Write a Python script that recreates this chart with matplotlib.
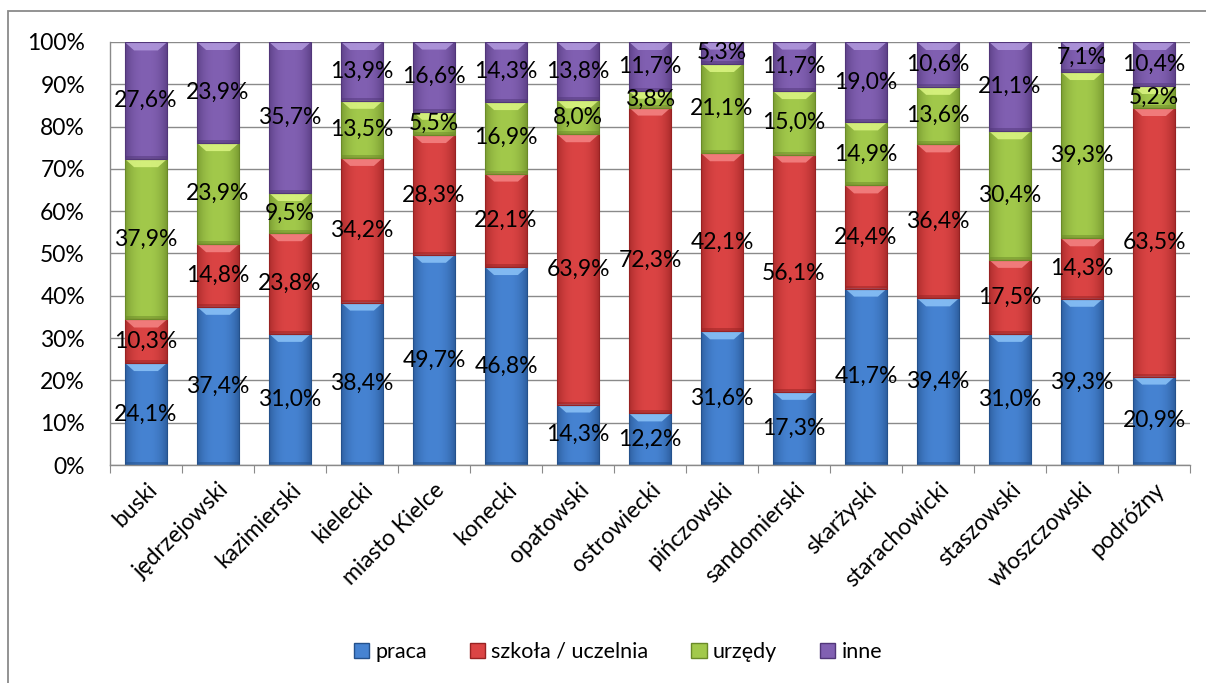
import matplotlib
matplotlib.use("Agg")
import matplotlib.pyplot as plt
import numpy as np
from matplotlib.patches import Polygon, Rectangle, Patch
from matplotlib.colors import to_rgb

categories = ["buski", "jędrzejowski", "kazimierski", "kielecki", "miasto Kielce",
              "konecki", "opatowski", "ostrowiecki", "pińczowski", "sandomierski",
              "skarżyski", "starachowicki", "staszowski", "włoszczowski", "podróżny"]
praca = [24.1, 37.4, 31.0, 38.4, 49.7, 46.8, 14.3, 12.2, 31.6, 17.3, 41.7, 39.4, 31.0, 39.3, 20.9]
szkola = [10.3, 14.8, 23.8, 34.2, 28.3, 22.1, 63.9, 72.3, 42.1, 56.1, 24.4, 36.4, 17.5, 14.3, 63.5]
urzedy = [37.9, 23.9, 9.5, 13.5, 5.5, 16.9, 8.0, 3.8, 21.1, 15.0, 14.9, 13.6, 30.4, 39.3, 5.2]
inne = [27.6, 23.9, 35.7, 13.9, 16.6, 14.3, 13.8, 11.7, 5.3, 11.7, 19.0, 10.6, 21.1, 7.1, 10.4]
series_names = ["praca", "szkoła / uczelnia", "urzędy", "inne"]
series = [praca, szkola, urzedy, inne]
y_ticks = [0, 10, 20, 30, 40, 50, 60, 70, 80, 90, 100]

# base, edge shade, bevel highlight for each series
palette = [
    ("#4683d2", "#24518c", "#8cc4f8"),
    ("#db4444", "#982222", "#f58585"),
    ("#a2c94b", "#6a8a28", "#dcf683"),
    ("#8160b2", "#513679", "#b29ade"),
]

plt.rcParams["font.family"] = ["Lato", "DejaVu Sans"]

W, H = 1206, 683
fig = plt.figure(figsize=(W / 100, H / 100), dpi=100)
fig.patch.set_facecolor("white")
ax = fig.add_axes([110 / W, 1 - 465 / H, 1080 / W, 423 / H])

n = len(categories)
x = np.arange(n)
bar_w = 0.58
ax.set_xlim(-0.5, n - 0.5)
ax.set_ylim(0, 100)

# pixel -> data unit factors
px_x = n / 1080.0
px_y = 100.0 / 423.0


def shaded_segment(xc, y0, h, cols):
    base, dark, light = [np.array(to_rgb(c)) for c in cols]
    x0, x1 = xc - bar_w / 2, xc + bar_w / 2
    rect = Rectangle((x0, y0), bar_w, h, facecolor=base, edgecolor="none", zorder=2)
    ax.add_patch(rect)
    # horizontal shading: darker towards the sides
    t = np.linspace(-1, 1, 80)
    w = np.clip(np.abs(t) ** 2.5, 0, 1) * 0.7
    row = base[None, :] * (1 - w[:, None]) + dark[None, :] * w[:, None]
    img = ax.imshow(row[None, :, :], extent=(x0, x1, y0, y0 + h), aspect="auto",
                    interpolation="bilinear", zorder=2.1)
    img.set_clip_path(rect)
    # bevelled top edge
    bh = min(8 * px_y, h * 0.45)
    inset = 9 * px_x
    top = y0 + h
    ax.add_patch(Polygon([(x0, top), (x1, top), (x1 - inset, top - bh), (x0 + inset, top - bh)],
                         closed=True, facecolor=light, edgecolor="none", alpha=0.85, zorder=2.2))
    # darker lip at the bottom
    bb = min(3 * px_y, h * 0.2)
    ax.add_patch(Rectangle((x0, y0), bar_w, bb, facecolor=dark, edgecolor="none",
                           alpha=0.5, zorder=2.2))
    # thin dark outline
    ax.add_patch(Rectangle((x0, y0), bar_w, h, facecolor="none", edgecolor=dark,
                           linewidth=0.8, zorder=2.3))


bottoms = np.zeros(n)
for vals, cols in zip(series, palette):
    vals = np.array(vals)
    for i in range(n):
        shaded_segment(x[i], bottoms[i], vals[i], cols)
        ax.text(x[i], bottoms[i] + vals[i] / 2, f"{vals[i]:.1f}%".replace(".", ","),
                ha="center", va="center", fontsize=16.5, color="black", zorder=5)
    bottoms += vals

# grid and axes
ax.set_yticks(y_ticks)
ax.set_yticklabels([f"{v}%" for v in y_ticks], fontsize=16.5)
ax.yaxis.grid(True, color="#8a8a8a", linewidth=1.0, zorder=0)
ax.set_axisbelow(True)
ax.tick_params(axis="y", length=0, pad=18)

ax.set_xticks(np.arange(-0.5, n, 1.0), minor=False)
ax.set_xticklabels([])
ax.set_xticks(x, minor=True)
ax.set_xticklabels(categories, minor=True, rotation=45, ha="right", va="top",
                   rotation_mode="anchor", fontsize=16.5)
ax.tick_params(axis="x", which="major", length=6, color="#8a8a8a", direction="out")
ax.tick_params(axis="x", which="minor", length=0, pad=10)

for s in ["top", "right"]:
    ax.spines[s].set_visible(False)
for s in ["left", "bottom"]:
    ax.spines[s].set_color("#8a8a8a")
    ax.spines[s].set_linewidth(1.0)

# legend
handles = [Patch(facecolor=c[0], edgecolor=c[1]) for c in palette]
fig.legend(handles, series_names, loc="center", bbox_to_anchor=(618 / W, 1 - 652 / H),
           ncol=4, frameon=False, fontsize=15.5, handlelength=0.7, handleheight=0.7,
           handletextpad=0.3, columnspacing=2.0)

# chart frame
fig.add_artist(Rectangle((8 / W, -0.1), 1.2, 1 - 11 / H + 0.1, transform=fig.transFigure,
                         facecolor="none", edgecolor="#8a8a8a", linewidth=1.3))

fig.savefig("out.png", dpi=100)
